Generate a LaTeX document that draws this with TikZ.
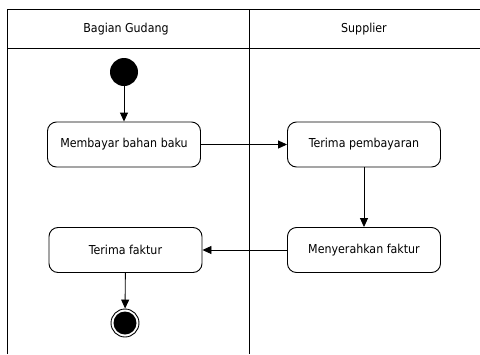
\documentclass[tikz,border=0pt]{standalone}
\usepackage{fontspec}
\setmainfont{DejaVu Sans Condensed}
\usetikzlibrary{arrows.meta}
\begin{document}
\begin{tikzpicture}[x=1pt,y=-1pt,
  lane/.style={line width=0.9pt},
  action/.style={draw,line width=0.9pt,rounded corners=9pt,minimum width=153pt,minimum height=45pt,font=\fontsize{12.3}{14}\selectfont,inner sep=0pt},
  flow/.style={line width=0.9pt,-{Triangle[length=9pt,width=8pt]}},
  lanetitle/.style={font=\fontsize{12.3}{14}\selectfont}]
  \useasboundingbox (0,0) rectangle (480,354);
  % swimlanes
  \draw[lane] (7,354) -- (7,9) -- (480,9);
  \draw[lane] (7,48) -- (480,48);
  \draw[lane] (249,9) -- (249,354);
  \node[lanetitle] (lane1) at (126,29) {Bagian Gudang};
  \node[lanetitle] (lane2) at (364,29) {Supplier};
  % start and end
  \node[circle,fill=black,minimum size=28pt,inner sep=0pt] (start) at (124,72) {};
  \node[circle,draw,line width=0.9pt,minimum size=28pt,inner sep=0pt] (end) at (125,323) {};
  \fill (end.center) circle (11.5pt);
  % actions
  \node[action] (bayar) at (124,144.5) {Membayar bahan baku};
  \node[action] (terima) at (364,144.5) {Terima pembayaran};
  \node[action] (serah) at (364,250) {Menyerahkan faktur};
  \node[action] (faktur) at (125.5,250) {Terima faktur};
  % flows
  \draw[flow] (start) -- (bayar);
  \draw[flow] (bayar) -- (terima);
  \draw[flow] (terima) -- (serah);
  \draw[flow] (serah) -- (faktur);
  \draw[flow] (faktur) -- (end);
\end{tikzpicture}
\end{document}
